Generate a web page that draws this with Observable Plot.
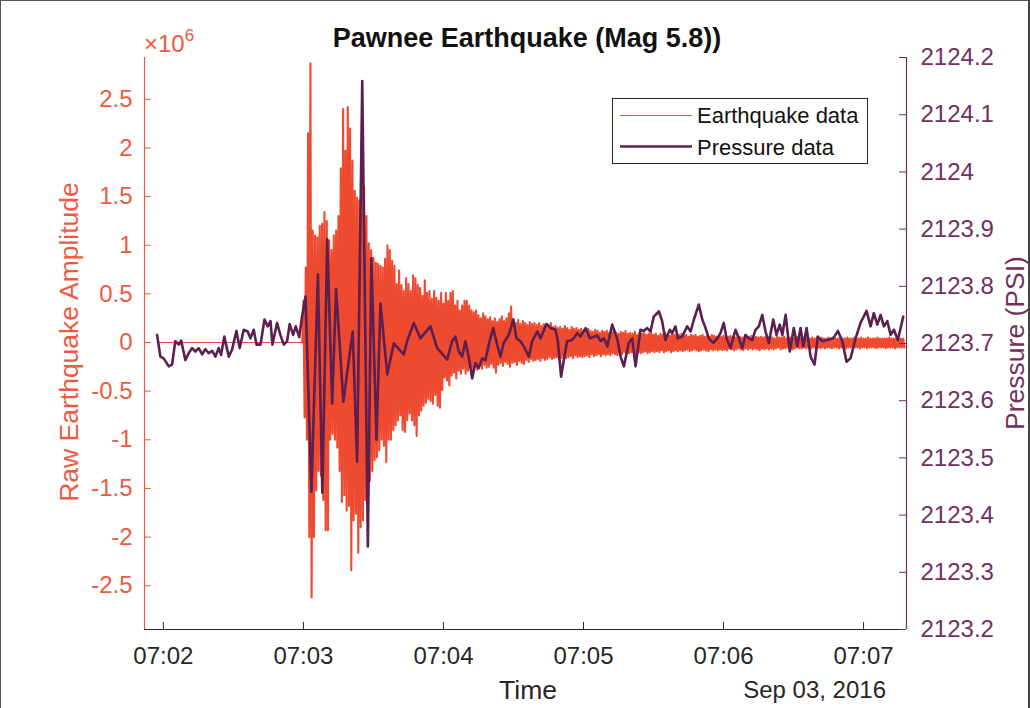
<!DOCTYPE html>
<html><head><meta charset="utf-8">
<script src="https://cdn.jsdelivr.net/npm/d3@7"></script>
<script src="https://cdn.jsdelivr.net/npm/@observablehq/plot@0.6"></script>
<style>
html,body{margin:0;padding:0;background:#fff;}
#wrap{position:relative;width:1030px;height:708px;overflow:hidden;}
#border{position:absolute;left:0;top:0;width:1030px;height:708px;box-sizing:border-box;border-left:1px solid #555;border-top:1px solid #555;border-right:2px solid #444;pointer-events:none;}
</style></head><body><div id="wrap"><div id="border"></div></div>
<script>
// ---------------- data ----------------
// seconds after 07:00:00 UTC, Sep 03 2016
const xTickSeconds = [120, 180, 240, 300, 360, 420];
const xTickLabels = ["07:02", "07:03", "07:04", "07:05", "07:06", "07:07"];
const leftTickVals = [-2.5, -2, -1.5, -1, -0.5, 0, 0.5, 1, 1.5, 2, 2.5];
const leftTickLabels = ["-2.5", "-2", "-1.5", "-1", "-0.5", "0", "0.5", "1", "1.5", "2", "2.5"];
const rightTickVals = [2123.2, 2123.3, 2123.4, 2123.5, 2123.6, 2123.7, 2123.8, 2123.9, 2124, 2124.1, 2124.2];
const rightTickLabels = ["2123.2", "2123.3", "2123.4", "2123.5", "2123.6", "2123.7", "2123.8", "2123.9", "2124", "2124.1", "2124.2"];

// earthquake (units of 1e6): quiet part, then alternating peaks every second
const eqQuietTime = [117.3, 179.5];
const eqQuietVal = [0, 0];
const eqStart = 180, eqStep = 1;
const eqUp = [
 0.43,0.77,2.15,2.87,1.15,1.1,1.08,1.2,1.22,1.34,
 1.25,1.05,0.95,1.1,1.15,1.3,1.79,2.4,1.97,2.42,
 2.2,1.87,1.56,1.49,1.46,1.63,1.6,1.3,1.02,0.95,
 0.87,0.82,0.81,0.79,0.77,0.86,1.0,0.95,0.84,0.79,
 0.6,0.74,0.59,0.53,0.66,0.6,0.53,0.69,0.66,0.59,
 0.56,0.48,0.64,0.51,0.53,0.45,0.53,0.46,0.43,0.51,
 0.4,0.51,0.43,0.51,0.53,0.38,0.43,0.33,0.38,0.43,
 0.43,0.38,0.33,0.31,0.33,0.28,0.25,0.3,0.27,0.24,
 0.26,0.22,0.25,0.21,0.24,0.27,0.22,0.25,0.3,0.37,
 0.24,0.2,0.23,0.19,0.22,0.2,0.18,0.21,0.19,0.2,
 0.18,0.2,0.17,0.19,0.16,0.18,0.2,0.16,0.17,0.15,
 0.16,0.14,0.17,0.15,0.13,0.16,0.14,0.15,0.13,0.14,
 0.12,0.13,0.14,0.12,0.11,0.13,0.12,0.1,0.12,0.11,
 0.12,0.1,0.11,0.12,0.1,0.09,0.11,0.1,0.12,0.09,
 0.1,0.09,0.11,0.08,0.1,0.09,0.1,0.08,0.09,0.1,
 0.08,0.09,0.07,0.09,0.08,0.1,0.08,0.07,0.09,0.08,
 0.07,0.08,0.09,0.07,0.08,0.06,0.08,0.07,0.08,0.06,
 0.07,0.08,0.06,0.07,0.06,0.08,0.07,0.06,0.07,0.06,
 0.07,0.05,0.06,0.07,0.06,0.05,0.07,0.06,0.05,0.06,
 0.05,0.06,0.07,0.05,0.06,0.05,0.06,0.05,0.06,0.05,
 0.06,0.05,0.04,0.06,0.05,0.05,0.06,0.04,0.05,0.05,
 0.04,0.05,0.06,0.04,0.05,0.04,0.05,0.04,0.05,0.04,
 0.05,0.04,0.05,0.04,0.04,0.05,0.04,0.05,0.04,0.04,
 0.05,0.04,0.04,0.05,0.04,0.04,0.05,0.04,0.04,0.05,
 0.04,0.04,0.05,0.04,0.04,0.04,0.05,0.04,0.04,0.04,
 0.04,0.05,0.04,0.04,0.04,0.04,0.04,0.04
];
const eqDown = [
 -0.77,-1.0,-2.0,-2.62,-2.0,-1.52,-1.32,-1.37,-1.62,-1.93,
 -1.93,-1.0,-0.94,-1.0,-1.08,-1.32,-1.64,-1.57,-1.73,-1.68,
 -2.34,-1.83,-1.76,-2.16,-1.9,-1.83,-1.62,-1.59,-1.42,-1.32,
 -1.21,-1.18,-1.11,-1.0,-1.06,-1.23,-1.0,-1.0,-0.9,-0.85,
 -0.8,-0.75,-0.9,-0.92,-0.8,-0.73,-0.8,-0.85,-0.96,-0.75,
 -0.7,-0.65,-0.62,-0.58,-0.6,-0.63,-0.54,-0.65,-0.67,-0.49,
 -0.36,-0.39,-0.44,-0.34,-0.31,-0.37,-0.29,-0.32,-0.27,-0.32,
 -0.29,-0.26,-0.3,-0.25,-0.28,-0.24,-0.27,-0.23,-0.26,-0.25,
 -0.22,-0.26,-0.31,-0.23,-0.21,-0.24,-0.2,-0.22,-0.25,-0.21,
 -0.2,-0.23,-0.19,-0.21,-0.22,-0.18,-0.2,-0.17,-0.19,-0.18,
 -0.17,-0.19,-0.16,-0.18,-0.17,-0.15,-0.17,-0.16,-0.15,-0.17,
 -0.16,-0.14,-0.16,-0.15,-0.14,-0.16,-0.13,-0.15,-0.14,-0.15,
 -0.14,-0.13,-0.15,-0.12,-0.14,-0.13,-0.12,-0.14,-0.12,-0.13,
 -0.12,-0.13,-0.11,-0.12,-0.13,-0.11,-0.12,-0.1,-0.12,-0.11,
 -0.1,-0.11,-0.12,-0.1,-0.11,-0.1,-0.09,-0.11,-0.1,-0.09,
 -0.1,-0.09,-0.1,-0.08,-0.1,-0.09,-0.08,-0.1,-0.09,-0.08,
 -0.09,-0.08,-0.09,-0.08,-0.07,-0.09,-0.08,-0.07,-0.08,-0.09,
 -0.08,-0.07,-0.08,-0.09,-0.07,-0.08,-0.07,-0.08,-0.07,-0.08,
 -0.07,-0.08,-0.06,-0.07,-0.08,-0.07,-0.06,-0.07,-0.08,-0.06,
 -0.07,-0.06,-0.07,-0.06,-0.07,-0.08,-0.06,-0.07,-0.06,-0.07,
 -0.06,-0.07,-0.06,-0.05,-0.07,-0.06,-0.06,-0.05,-0.06,-0.07,
 -0.06,-0.05,-0.06,-0.06,-0.05,-0.06,-0.05,-0.06,-0.05,-0.06,
 -0.05,-0.06,-0.05,-0.06,-0.05,-0.05,-0.06,-0.05,-0.05,-0.06,
 -0.05,-0.05,-0.06,-0.05,-0.05,-0.06,-0.05,-0.05,-0.06,-0.05,
 -0.05,-0.06,-0.05,-0.05,-0.05,-0.06,-0.05,-0.05,-0.05,-0.06,
 -0.05,-0.05,-0.05,-0.06,-0.05,-0.05,-0.05,-0.05
];

// pressure (PSI)
const pressTime = [
 117.3,118.7,120.1,122.3,123.7,125.1,126.6,127.6,129.4,130.8,
 132.3,133.7,135.1,136.6,138.0,139.4,140.9,142.3,143.7,144.7,
 146.1,148.0,149.4,151.3,152.7,154.4,156.1,157.3,158.7,159.9,
 161.6,163.3,164.7,165.9,166.7,168.7,170.1,171.6,173.0,174.1,
 175.6,176.7,178.2,179.4,180.9,183.4,186.2,188.1,190.2,192.3,
 194.0,197.1,201.1,203.0,205.2,207.6,209.1,211.3,213.0,215.9,
 218.7,223.0,224.4,227.3,230.1,234.4,237.3,241.6,242.3,243.7,
 245.1,246.6,248.0,249.4,250.8,252.3,253.7,255.1,256.6,258.0,
 259.4,261.3,263.0,264.4,265.8,268.0,269.9,271.3,273.0,274.4,
 276.6,278.0,280.2,281.6,284.1,285.9,288.0,289.0,290.4,291.9,
 293.0,295.2,297.3,298.7,300.9,302.7,305.9,307.3,308.7,310.2,
 312.3,314.4,315.9,317.3,319.4,320.9,322.3,324.4,325.8,327.3,
 328.7,330.1,332.3,333.7,335.1,337.0,338.0,339.4,340.4,342.3,
 344.4,345.9,347.3,349.4,350.9,352.3,353.7,355.6,357.3,358.7,
 360.1,361.3,363.0,365.1,366.6,368.0,369.4,370.8,372.3,373.7,
 375.1,376.6,378.0,379.4,381.3,382.7,384.1,385.2,386.6,388.4,
 390.1,391.6,393.0,394.2,395.6,397.3,399.0,400.4,402.3,404.4,
 407.0,409.0,410.9,412.7,414.4,416.6,418.7,421.3,423.0,424.4,
 425.9,427.3,428.7,430.2,431.6,433.0,434.7,437.0
];
const pressVal = [
 2123.715,2123.677,2123.674,2123.660,2123.663,2123.704,2123.698,2123.705,2123.671,2123.683,
 2123.692,2123.686,2123.692,2123.681,2123.690,2123.683,2123.687,2123.677,2123.692,2123.680,
 2123.712,2123.677,2123.689,2123.722,2123.692,2123.724,2123.721,2123.709,2123.724,2123.698,
 2123.698,2123.742,2123.730,2123.739,2123.698,2123.736,2123.715,2123.698,2123.704,2123.734,
 2123.715,2123.730,2123.711,2123.747,2123.782,2123.441,2123.821,2123.439,2123.882,2123.595,
 2123.795,2123.598,2123.721,2123.493,2124.159,2123.345,2123.849,2123.532,2123.770,2123.646,
 2123.700,2123.681,2123.704,2123.736,2123.709,2123.730,2123.692,2123.672,2123.683,2123.704,
 2123.712,2123.686,2123.677,2123.704,2123.677,2123.639,2123.666,2123.657,2123.674,2123.671,
 2123.698,2123.727,2123.698,2123.677,2123.701,2123.715,2123.742,2123.709,2123.704,2123.695,
 2123.677,2123.704,2123.721,2123.709,2123.734,2123.727,2123.724,2123.704,2123.642,2123.680,
 2123.704,2123.706,2123.718,2123.712,2123.727,2123.709,2123.714,2123.704,2123.709,2123.695,
 2123.733,2123.709,2123.677,2123.660,2123.701,2123.709,2123.660,2123.724,2123.722,2123.727,
 2123.721,2123.747,2123.756,2123.739,2123.706,2123.724,2123.718,2123.730,2123.709,2123.712,
 2123.730,2123.721,2123.742,2123.768,2123.742,2123.727,2123.709,2123.701,2123.709,2123.718,
 2123.736,2123.709,2123.692,2123.724,2123.709,2123.692,2123.715,2123.709,2123.706,2123.724,
 2123.730,2123.750,2123.721,2123.701,2123.742,2123.715,2123.733,2123.715,2123.750,2123.686,
 2123.727,2123.695,2123.727,2123.695,2123.727,2123.677,2123.663,2123.712,2123.704,2123.706,
 2123.709,2123.722,2123.704,2123.668,2123.674,2123.709,2123.736,2123.757,2123.730,2123.753,
 2123.733,2123.750,2123.730,2123.739,2123.715,2123.724,2123.706,2123.747
];

// ---------------- layout & style ----------------
const W = 1030, H = 708;
const mL = 144, mR = 124, mT = 57, mB = 79;
const RED = "#EE4A2F", RED_AX = "#F0593F", PUR = "#5C1F4F", PUR_AX = "#71305F", INK = "#262626";
const FONT = "'Liberation Sans', Arial, Helvetica, sans-serif";

const base = Date.UTC(2016, 8, 3, 7, 0, 0);
const toDate = s => new Date(base + s * 1000);
const xDomain = [toDate(111.9), toDate(438.4)];
const yDomain = [-2.95e6, 2.93e6];
const pDomain = [2123.2, 2124.2];
const pToY = p => yDomain[0] + (p - pDomain[0]) / (pDomain[1] - pDomain[0]) * (yDomain[1] - yDomain[0]);

const msPerPx = (xDomain[1] - xDomain[0]) / (W - mL - mR);
const yPerPx = (yDomain[1] - yDomain[0]) / (H - mT - mB);
const TICK = 7;

// ---------------- tables ----------------
const eqQuietRows = eqQuietTime.map((t, i) => ({t: toDate(t), v: eqQuietVal[i] * 1e6}));
const eqBurstRows = [eqQuietRows[eqQuietRows.length - 1]];
eqUp.forEach((u, i) => {
  const t = eqStart + i * eqStep;
  eqBurstRows.push({t: toDate(t), v: u * 1e6});
  eqBurstRows.push({t: toDate(t + eqStep / 2), v: eqDown[i] * 1e6});
});
const pRows = pressTime.map((t, i) => ({t: toDate(t), y: pToY(pressVal[i])}));
const leftTicks = leftTickVals.map((v, i) => ({y: v * 1e6, label: leftTickLabels[i]}));
const rightTicks = rightTickVals.map((v, i) => ({y: pToY(v), label: rightTickLabels[i]}));
const xTicks = xTickSeconds.map((s, i) => ({x: toDate(s), label: xTickLabels[i]}));

const svg = Plot.plot({
  width: W, height: H,
  marginLeft: mL, marginRight: mR, marginTop: mT, marginBottom: mB,
  style: {fontFamily: FONT, background: "white", overflow: "visible"},
  x: {type: "utc", domain: xDomain, axis: null},
  y: {type: "linear", domain: yDomain, axis: null},
  marks: [
    Plot.line(eqQuietRows, {x: "t", y: "v", stroke: RED, strokeWidth: 1}),
    Plot.line(eqBurstRows, {x: "t", y: "v", stroke: RED, strokeWidth: 2.1}),
    Plot.line(pRows, {x: "t", y: "y", stroke: PUR, strokeWidth: 2.6}),
    Plot.ruleX([xDomain[0]], {stroke: RED_AX, strokeWidth: 1.2}),
    Plot.ruleX([xDomain[1]], {stroke: PUR_AX, strokeWidth: 1.2}),
    Plot.ruleY([yDomain[0]], {stroke: INK, strokeWidth: 1.2}),
    Plot.ruleY(leftTicks, {y: "y", x1: xDomain[0], x2: new Date(+xDomain[0] + TICK * msPerPx), stroke: RED_AX}),
    Plot.ruleY(rightTicks, {y: "y", x1: new Date(+xDomain[1] - TICK * msPerPx), x2: xDomain[1], stroke: PUR_AX}),
    Plot.ruleX(xTicks, {x: "x", y1: yDomain[0], y2: yDomain[0] + TICK * yPerPx, stroke: INK}),
    Plot.text(leftTicks, {x: xDomain[0], y: "y", text: "label", textAnchor: "end", dx: -12, fill: RED_AX, fontSize: 24}),
    Plot.text(rightTicks, {x: xDomain[1], y: "y", text: "label", textAnchor: "start", dx: 14, fill: PUR_AX, fontSize: 24}),
    Plot.text(xTicks, {x: "x", y: yDomain[0], text: "label", lineAnchor: "top", dy: 17, fill: INK, fontSize: 24})
  ]
});

const s = d3.select(svg);
s.append("text").attr("x", 527).attr("y", 47).attr("text-anchor", "middle")
  .attr("font-size", 27).attr("font-weight", "bold").attr("fill", "#111").text("Pawnee Earthquake (Mag 5.8))");
const mult = s.append("text").attr("x", 144).attr("y", 52).attr("text-anchor", "start").attr("font-size", 24).attr("fill", RED_AX);
mult.append("tspan").text("×10");
mult.append("tspan").attr("font-size", 17).attr("dy", -11).text("6");
s.append("text").attr("transform", "translate(78,342) rotate(-90)").attr("text-anchor", "middle")
  .attr("font-size", 26.5).attr("fill", RED_AX).text("Raw Earthquake Amplitude");
s.append("text").attr("transform", "translate(1024,343) rotate(-90)").attr("text-anchor", "middle")
  .attr("font-size", 26.5).attr("fill", PUR_AX).text("Pressure (PSI)");
s.append("text").attr("x", 528).attr("y", 699).attr("text-anchor", "middle")
  .attr("font-size", 26.5).attr("fill", INK).text("Time");
s.append("text").attr("x", 886).attr("y", 698).attr("text-anchor", "end")
  .attr("font-size", 24).attr("fill", INK).text("Sep 03, 2016");

// legend
const lg = s.append("g");
lg.append("rect").attr("x", 612.5).attr("y", 98.5).attr("width", 255).attr("height", 65)
  .attr("fill", "white").attr("stroke", INK).attr("stroke-width", 1);
lg.append("line").attr("x1", 620).attr("x2", 692).attr("y1", 115.5).attr("y2", 115.5).attr("stroke", RED).attr("stroke-width", 1.2);
lg.append("line").attr("x1", 620).attr("x2", 692).attr("y1", 146.5).attr("y2", 146.5).attr("stroke", PUR).attr("stroke-width", 2.6);
lg.append("text").attr("x", 697).attr("y", 123).attr("text-anchor", "start").attr("font-size", 22).attr("fill", "#111").text("Earthquake data");
lg.append("text").attr("x", 697).attr("y", 155).attr("text-anchor", "start").attr("font-size", 22).attr("fill", "#111").text("Pressure data");

document.getElementById("wrap").prepend(svg);
</script></body></html>
